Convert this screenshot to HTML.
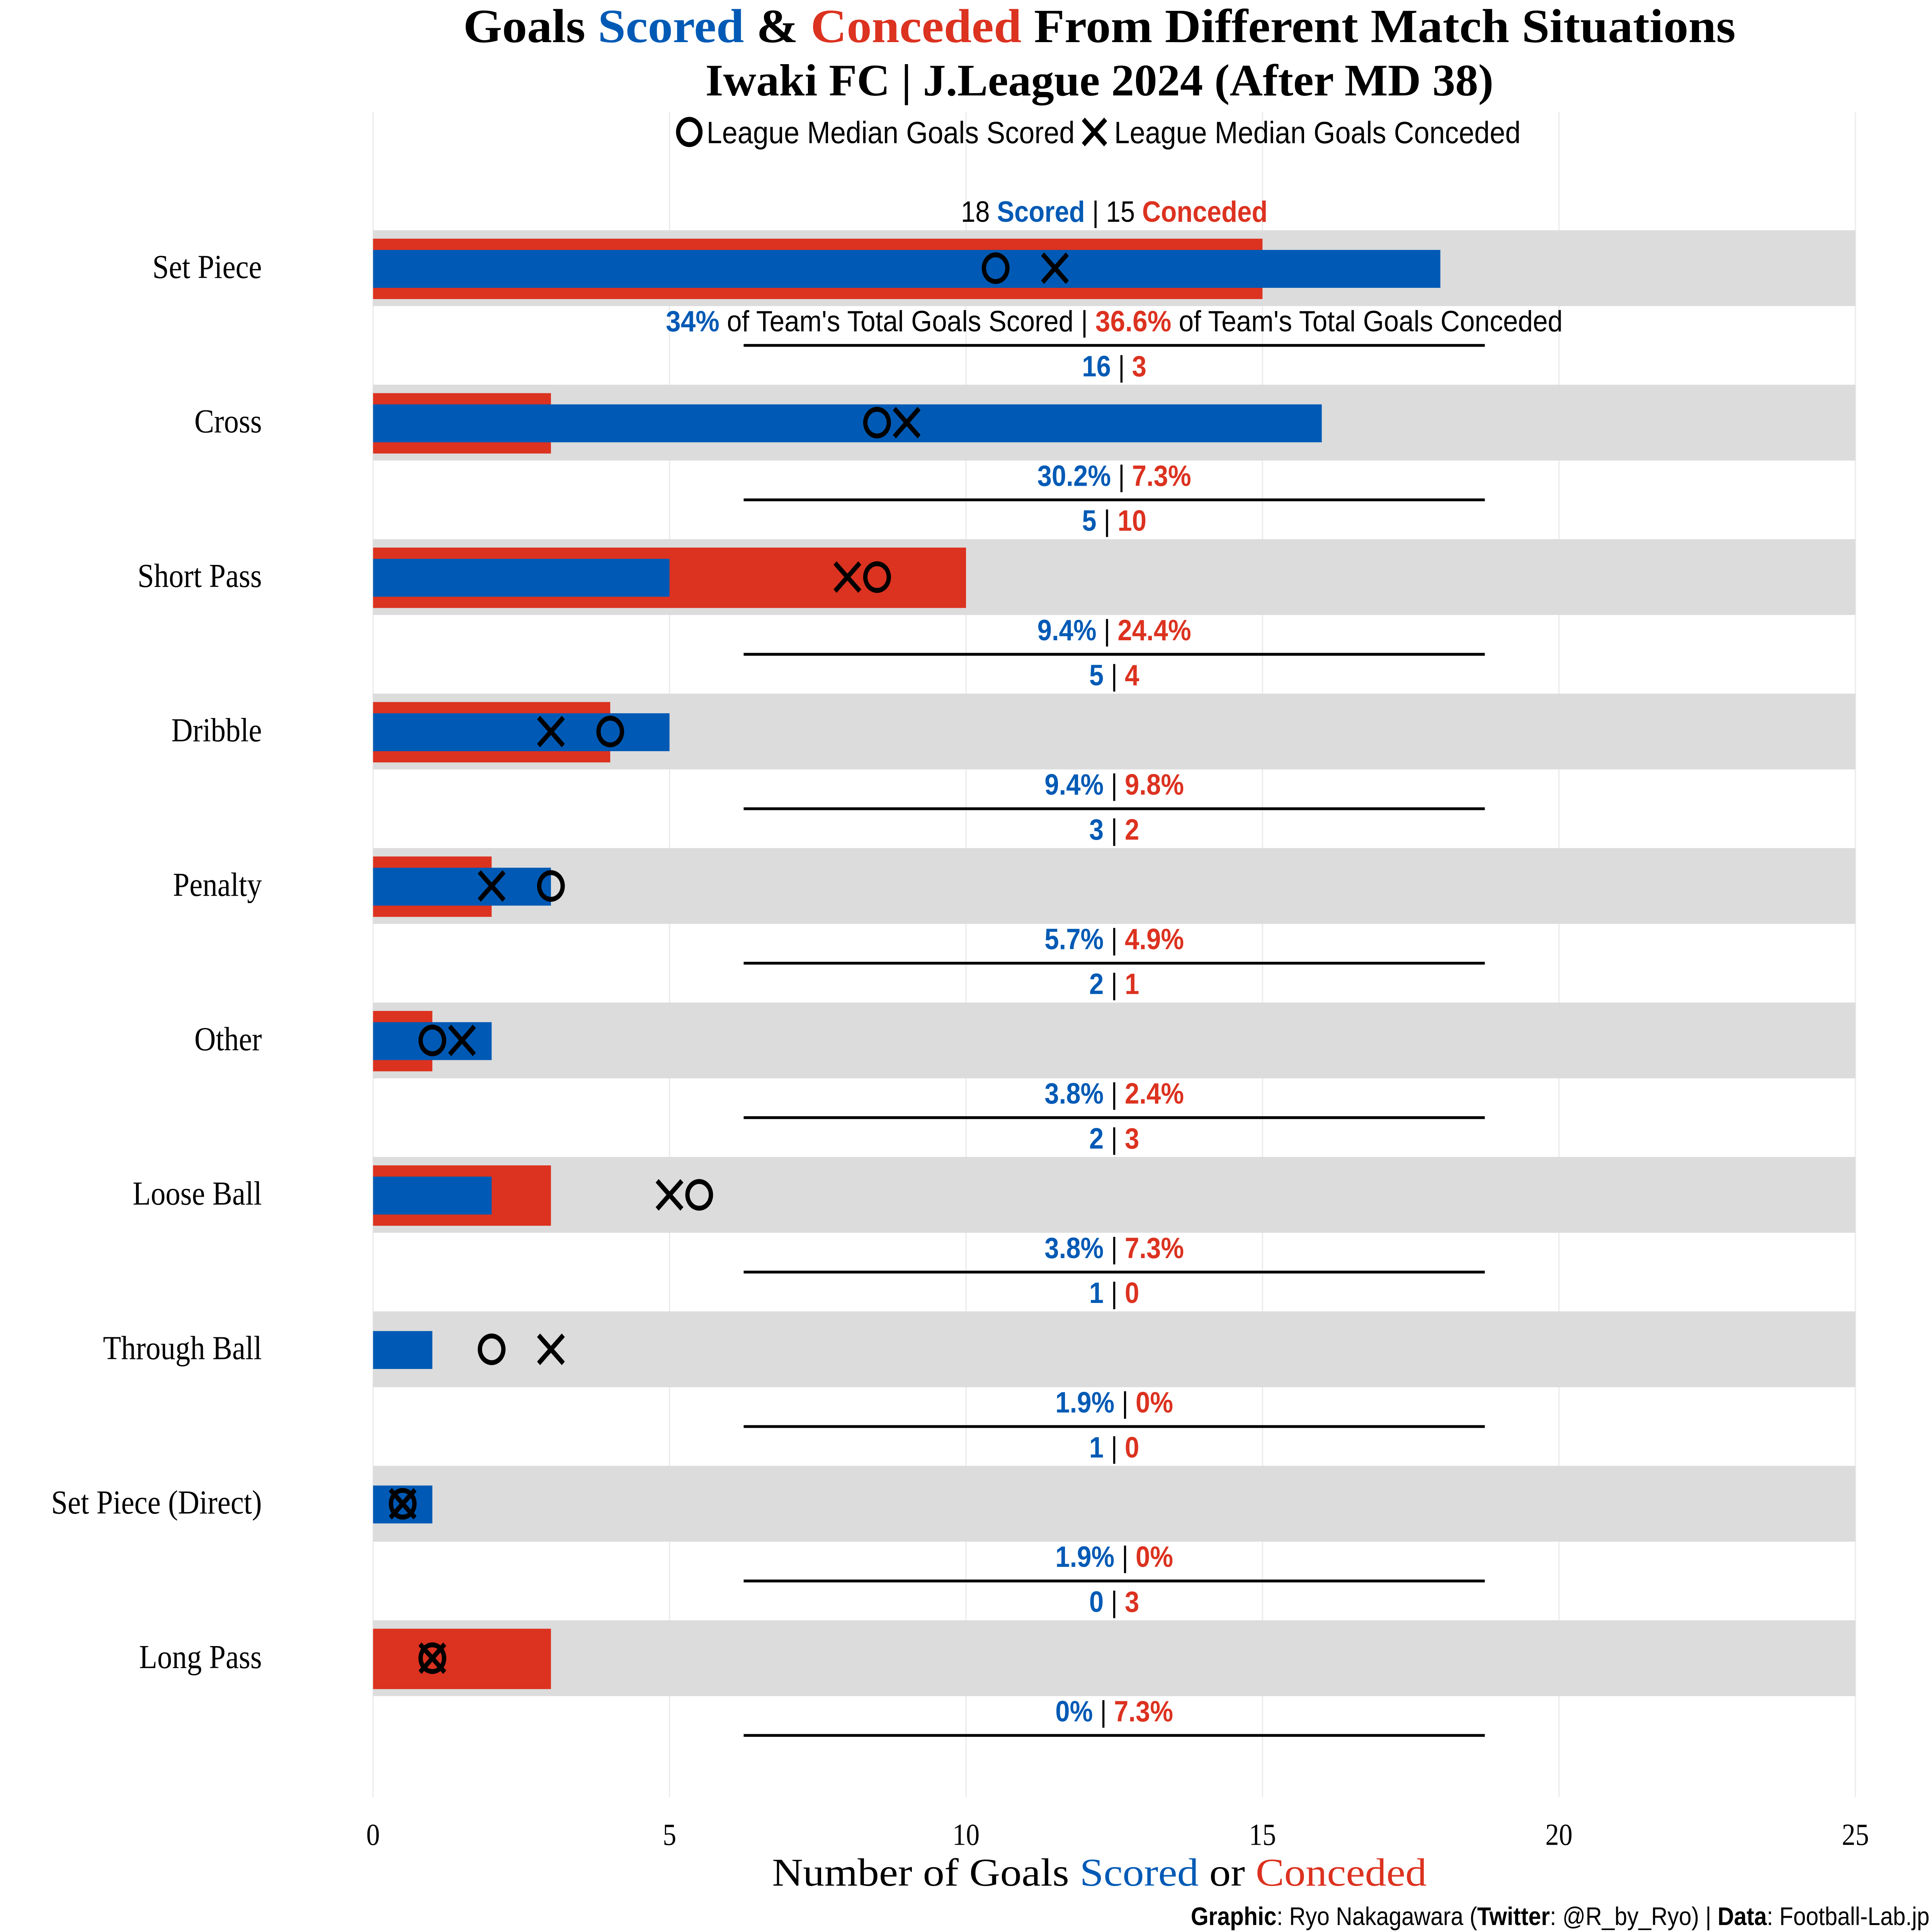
<!DOCTYPE html>
<html><head><meta charset="utf-8"><style>
html,body{margin:0;padding:0;background:#fff;overflow:hidden;width:100vw;height:100vh;}
svg{display:block;width:100vw;height:100vh;}
.serif{font-family:"Liberation Serif","DejaVu Serif",serif;}
.sans{font-family:"Liberation Sans","DejaVu Sans",sans-serif;}
</style></head><body>
<svg id="chart" xmlns="http://www.w3.org/2000/svg" viewBox="0 0 1564 1376" preserveAspectRatio="none">
<rect width="1564" height="1376" fill="#fff"/>
<g id="grid"></g>
<g id="bands"></g>
<g id="bars"></g>
<g id="marks"></g>
<g id="labels"></g>
<text x="890" y="30" text-anchor="middle" class="serif" font-weight="bold" font-size="34" textLength="1030" lengthAdjust="spacingAndGlyphs">Goals <tspan fill="#005ab5">Scored</tspan> &amp; <tspan fill="#dc3220">Conceded</tspan> From Different Match Situations</text>
<text x="890" y="68" text-anchor="middle" class="serif" font-weight="bold" font-size="32" textLength="638" lengthAdjust="spacingAndGlyphs">Iwaki FC | J.League 2024 (After MD 38)</text>
<g>
<circle cx="558" cy="94" r="9" fill="none" stroke="#000" stroke-width="3.5"/>
<text x="572" y="102" class="sans" font-size="22" textLength="298" lengthAdjust="spacingAndGlyphs">League Median Goals Scored</text>
<path d="M877 85 L895 103 M895 85 L877 103" stroke="#000" stroke-width="3.5"/>
<text x="902" y="102" class="sans" font-size="22" textLength="329" lengthAdjust="spacingAndGlyphs">League Median Goals Conceded</text>
</g>
<text x="890" y="1343" text-anchor="middle" class="serif" font-size="28" textLength="530" lengthAdjust="spacingAndGlyphs">Number of Goals <tspan fill="#005ab5">Scored</tspan> or <tspan fill="#dc3220">Conceded</tspan></text>
<text x="1562" y="1371" text-anchor="end" class="sans" font-size="18" textLength="598" lengthAdjust="spacingAndGlyphs"><tspan font-weight="bold">Graphic</tspan>: Ryo Nakagawara (<tspan font-weight="bold">Twitter</tspan>: @R_by_Ryo) | <tspan font-weight="bold">Data</tspan>: Football-Lab.jp</text>
</svg>
<script>
const categories = ["Set Piece","Cross","Short Pass","Dribble","Penalty","Other","Loose Ball","Through Ball","Set Piece (Direct)","Long Pass"];
const scored = [18,16,5,5,3,2,2,1,1,0];
const conceded = [15,3,10,4,2,1,3,0,0,3];
const pctScored = ["34%","30.2%","9.4%","9.4%","5.7%","3.8%","3.8%","1.9%","1.9%","0%"];
const pctConceded = ["36.6%","7.3%","24.4%","9.8%","4.9%","2.4%","7.3%","0%","0%","7.3%"];
const medianScored = [10.5,8.5,8.5,4,3,1,5.5,2,0.5,1];
const medianConceded = [11.5,9,8,3,2,1.5,5,3,0.5,1];
const xTicks = [0,5,10,15,20,25];

const NS="http://www.w3.org/2000/svg";
const x = v => 302 + v*48;
const y = i => 190 + i*110;
const BLUE="#005ab5", RED="#dc3220";
function mk(tag, attrs, parent){const e=document.createElementNS(NS,tag);for(const k in attrs)e.setAttribute(k,attrs[k]);parent.appendChild(e);return e;}
const grid=document.getElementById('grid'),bands=document.getElementById('bands'),bars=document.getElementById('bars'),marks=document.getElementById('marks'),labels=document.getElementById('labels');

xTicks.forEach(t=>{
  const l=mk('line',{x1:x(t),x2:x(t),y1:80,y2:1280,stroke:'#ebebeb','stroke-width':1},grid);
  
  
  const tx=mk('text',{x:x(t),y:1314,'text-anchor':'middle','font-size':22,class:'serif'},grid);
  tx.textContent=t;
  
  
});

categories.forEach((c,i)=>{
  const cy=y(i);
  const b=mk('rect',{x:x(0),y:cy-26,width:x(25)-x(0),height:54,fill:'#dcdcdc'},bands);
  
  
  const r=mk('rect',{x:x(0),y:cy-20,width:x(conceded[i])-x(0),height:43,fill:RED},bars);
  
  
  const bl=mk('rect',{x:x(0),y:cy-12,width:x(scored[i])-x(0),height:27,fill:BLUE},bars);
  
  
  const ci=mk('circle',{cx:x(medianScored[i]),cy:cy+1,r:9.5,fill:'none',stroke:'#000','stroke-width':3.5},marks);
  
  
  const mx=x(medianConceded[i]);
  const xm=mk('path',{d:`M${mx-10} ${cy-9} L${mx+10} ${cy+11} M${mx+10} ${cy-9} L${mx-10} ${cy+11}`,stroke:'#000','stroke-width':3.5},marks);
  
  
  const cl=mk('text',{x:212,y:cy+8,'text-anchor':'end','font-size':24,class:'serif'},labels);
  cl.textContent=c;
  
  
  const ln=mk('line',{x1:602,x2:1202,y1:cy+56,y2:cy+56,stroke:'#000','stroke-width':2},labels);
  
  
  const cnt=mk('text',{x:902,y:cy-32,'text-anchor':'middle','font-size':21,class:'sans'},labels);
  
  
  const pc=mk('text',{x:902,y:cy+46,'text-anchor':'middle','font-size':21,class:'sans'},labels);
  
  
  if(i===0){
    cnt.innerHTML=`${scored[i]} <tspan fill="${BLUE}" font-weight="bold">Scored</tspan> | ${conceded[i]} <tspan fill="${RED}" font-weight="bold">Conceded</tspan>`;
    pc.innerHTML=`<tspan fill="${BLUE}" font-weight="bold">${pctScored[i]}</tspan> of Team's Total Goals Scored | <tspan fill="${RED}" font-weight="bold">${pctConceded[i]}</tspan> of Team's Total Goals Conceded`;
    pc.setAttribute('textLength','726');
    pc.setAttribute('lengthAdjust','spacingAndGlyphs');
  } else {
    cnt.innerHTML=`<tspan fill="${BLUE}" font-weight="bold">${scored[i]}</tspan> | <tspan fill="${RED}" font-weight="bold">${conceded[i]}</tspan>`;
    pc.innerHTML=`<tspan fill="${BLUE}" font-weight="bold">${pctScored[i]}</tspan> | <tspan fill="${RED}" font-weight="bold">${pctConceded[i]}</tspan>`;
  }
});
</script>
</body></html>
